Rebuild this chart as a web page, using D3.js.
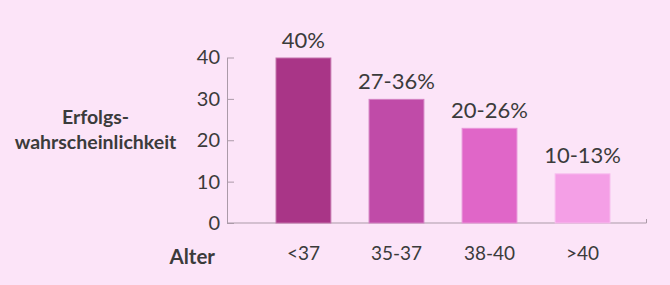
<!DOCTYPE html>
<html>
<head>
<meta charset="utf-8">
<script src="https://cdn.jsdelivr.net/npm/d3@7"></script>
<style>
  body { margin: 0; background: #fce4f8; }
  svg { display: block; font-family: "Lato", sans-serif; }
</style>
</head>
<body>
<div class="chart"></div>
<script>
const categories = ["<37", "35-37", "38-40", ">40"];
const values = [40, 30, 23, 12];
const barLabels = ["40%", "27-36%", "20-26%", "10-13%"];
const barColors = ["#a93587", "#c04ba8", "#e066c8", "#f49fe6"];
const yTicks = [0, 10, 20, 30, 40];

const drawChart = () => {
    const w = 670;
    const h = 285;
    const textColor = "#3b3b3b";
    const axisColor = "#ab9aa8";

    const svg = d3.select(".chart")
        .append("svg")
        .attr("width", w)
        .attr("height", h);

    svg.append("rect")
        .attr("width", w)
        .attr("height", h)
        .attr("fill", "#fce4f8");

    const x = d3.scaleBand()
        .domain(categories)
        .range([229, 657])
        .paddingInner(0.4)
        .paddingOuter(0.5);

    const y = d3.scaleLinear()
        .domain([0, 40])
        .range([223, 57.5]);

    // y axis, ticks pointing inward
    const yAxis = svg.append("g")
        .attr("transform", "translate(227,0)")
        .call(d3.axisLeft(y).tickValues(yTicks).tickSizeInner(-7).tickSizeOuter(0).tickPadding(7));
    yAxis.select(".domain").attr("stroke", axisColor);
    yAxis.selectAll(".tick line").attr("stroke", axisColor);
    yAxis.selectAll(".tick text")
        .attr("fill", textColor)
        .style("font-size", "20px")
        .style("font-family", "Lato, sans-serif");

    // x baseline
    const xAxis = svg.append("g")
        .attr("transform", "translate(0,223)")
        .call(d3.axisBottom(x).tickSize(0).tickSizeOuter(0).tickPadding(24));
    xAxis.select(".domain").attr("stroke", axisColor).attr("d", "M227,0H646.5V-4");
    xAxis.selectAll(".tick text")
        .attr("fill", textColor)
        .style("font-size", "19px")
        .style("font-family", "Lato, sans-serif");

    svg.selectAll(".bar")
        .data(values)
        .enter()
        .append("rect")
        .attr("class", "bar")
        .attr("x", (d, i) => x(categories[i]) + 0.5)
        .attr("y", d => y(d) + 0.5)
        .attr("width", x.bandwidth() - 1)
        .attr("height", d => y(0) - y(d) - 0.5)
        .attr("fill", (d, i) => barColors[i])
        .attr("stroke", (d, i) => d3.interpolateRgb(barColors[i], "#ffffff")(0.3))
        .attr("stroke-width", 1);

    svg.selectAll(".val")
        .data(values)
        .enter()
        .append("text")
        .attr("class", "val")
        .attr("x", (d, i) => x(categories[i]) + x.bandwidth() / 2)
        .attr("y", d => y(d) - 10)
        .attr("text-anchor", "middle")
        .attr("fill", textColor)
        .style("font-size", "22px")
        .text((d, i) => barLabels[i]);

    const yTitle = svg.append("text")
        .attr("text-anchor", "middle")
        .attr("fill", textColor)
        .style("font-size", "19.5px")
        .style("font-weight", "bold");
    yTitle.append("tspan").attr("x", 95.5).attr("y", 124).text("Erfolgs-");
    yTitle.append("tspan").attr("x", 95.5).attr("y", 149).text("wahrscheinlichkeit");

    svg.append("text")
        .attr("x", 215)
        .attr("y", 264)
        .attr("text-anchor", "end")
        .attr("fill", textColor)
        .style("font-size", "20.5px")
        .style("font-weight", "bold")
        .text("Alter");
}

drawChart();
</script>
</body>
</html>
